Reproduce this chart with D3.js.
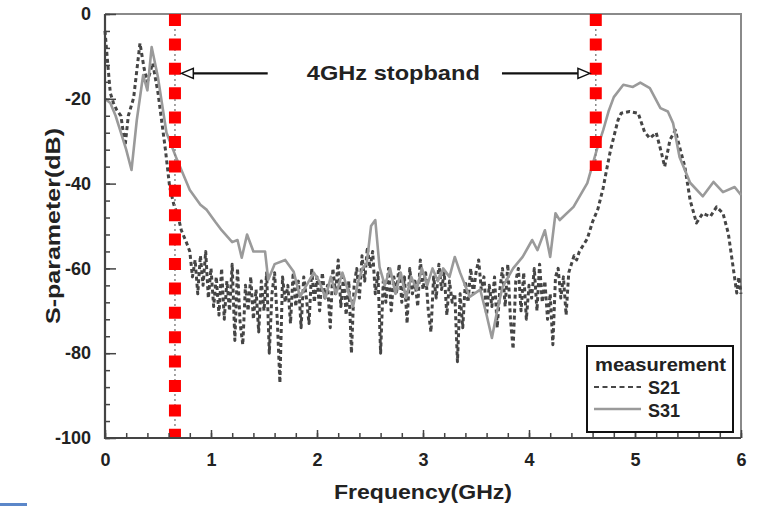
<!DOCTYPE html>
<html><head><meta charset="utf-8">
<script src="https://cdn.jsdelivr.net/npm/d3@7"></script>
<style>body{margin:0;background:#fff}svg{display:block}text{font-family:"Liberation Sans",Arial,sans-serif;font-weight:bold;fill:#222}</style>
</head><body>
<svg id="c" width="757" height="506"></svg>
<script>
// ---- data ----
const xTicks = [0,1,2,3,4,5,6];
const yTicks = [-100,-80,-60,-40,-20,0];
const seriesNames = ["S21","S31"];
const legendTitle = "measurement";
const xTitle = "Frequency(GHz)";
const yTitle = "S-parameter(dB)";
const annotation = "4GHz stopband";
const stopbandEdges = [0.66, 4.63];   // GHz
const rightEdgeLow = -37;             // dB, lower end of right marker
const arrowY = -14;                   // dB

const s21 = [
[0,-4],[0.02,-10],[0.05,-18.6],[0.08,-21],[0.11,-22.6],[0.15,-24],[0.19,-31],[0.22,-24],[0.27,-19.8],[0.33,-6.9],[0.37,-13],[0.40,-16],[0.45,-11.6],[0.50,-18.6],[0.57,-32],[0.61,-40.8],[0.65,-45],[0.69,-47.8],[0.72,-51],[0.77,-54],
[0.800,-56],[0.825,-62],[0.850,-58],[0.875,-66],[0.900,-57],[0.925,-64],[0.950,-56],[0.975,-67],[1.000,-60],[1.025,-69],[1.050,-62],[1.075,-71],[1.100,-60],[1.125,-72],[1.150,-63],[1.175,-70],[1.200,-59],[1.225,-77],[1.250,-60],[1.275,-73],[1.300,-78],[1.325,-64],[1.350,-70],[1.375,-62],[1.400,-72],[1.425,-65],[1.450,-75],[1.475,-63],[1.500,-70],[1.525,-61],[1.550,-80],[1.575,-66],[1.600,-61],[1.625,-72],[1.650,-87],[1.675,-62],[1.700,-68],[1.725,-64],[1.750,-73],[1.775,-61],[1.800,-69],[1.825,-63],[1.850,-74],[1.875,-62],[1.900,-67],[1.925,-73],[1.950,-60],[1.975,-68],
[2.000,-62],[2.025,-70],[2.050,-61],[2.075,-67],[2.100,-64],[2.125,-74],[2.150,-60],[2.175,-66],[2.200,-58],[2.225,-69],[2.250,-62],[2.275,-71],[2.300,-63],[2.325,-80],[2.350,-64],[2.375,-60],[2.400,-67],[2.425,-57],[2.450,-63],[2.475,-55],[2.500,-60],[2.525,-56],[2.550,-66],[2.575,-61],[2.600,-80],[2.625,-63],[2.650,-68],[2.675,-60],[2.700,-70],[2.725,-62],[2.750,-66],[2.775,-59],[2.800,-68],[2.825,-62],[2.850,-73],[2.875,-60],[2.900,-66],[2.925,-63],[2.950,-69],[2.975,-58],
[3.000,-65],[3.025,-61],[3.050,-70],[3.075,-75],[3.100,-62],[3.125,-67],[3.150,-59],[3.175,-65],[3.200,-61],[3.225,-71],[3.250,-63],[3.275,-68],[3.300,-66],[3.325,-82],[3.350,-66],[3.375,-74],[3.400,-63],[3.425,-68],[3.450,-60],[3.475,-66],[3.500,-61],[3.525,-58],[3.550,-65],[3.575,-62],[3.600,-71],[3.625,-64],[3.650,-69],[3.675,-62],[3.700,-74],[3.725,-65],[3.750,-60],[3.775,-69],[3.800,-59],[3.825,-72],[3.850,-79],[3.875,-63],[3.900,-60],[3.925,-70],[3.950,-61],[3.975,-72],
[4.000,-64],[4.025,-67],[4.050,-60],[4.075,-70],[4.100,-59],[4.125,-68],[4.150,-63],[4.175,-72],[4.200,-66],[4.225,-78],[4.250,-62],[4.275,-60],[4.300,-67],[4.325,-62],[4.350,-71],[4.375,-61],[4.400,-59],
[4.425,-57],[4.45,-58],[4.475,-56],[4.50,-55],[4.55,-53],[4.60,-49],[4.65,-46],[4.70,-41],[4.73,-37],[4.77,-32],[4.80,-29],[4.84,-25],[4.87,-23.4],[4.95,-23],[5.03,-23.4],[5.09,-27.8],[5.14,-29.3],[5.20,-28],[5.25,-32.8],[5.28,-36],[5.33,-29.7],[5.38,-27.4],[5.42,-31.3],[5.47,-36],[5.52,-43.9],[5.58,-49.3],[5.64,-47],[5.71,-47.8],[5.77,-45.5],[5.83,-47],[5.88,-51.7],[5.92,-58.7],[5.96,-65.8],[5.98,-62],[6.0,-66]
];

const s31 = [
[0,-20],[0.05,-21],[0.10,-24],[0.15,-28],[0.20,-32],[0.25,-36.8],[0.30,-25],[0.36,-14.4],[0.40,-18],[0.44,-7.8],[0.50,-15],[0.58,-28],[0.68,-34.4],[0.80,-41.5],[0.90,-45],[0.96,-46.2],[1.04,-49],[1.10,-51],[1.20,-53.8],[1.25,-53.3],[1.29,-57.5],[1.34,-52],[1.40,-56],[1.51,-56],[1.54,-62.7],[1.60,-59],[1.70,-58],[1.78,-60.8],[1.84,-66.7],[1.90,-64],[1.97,-61],
[2.02,-63],[2.08,-67],[2.13,-62],[2.18,-66],[2.24,-61],[2.29,-65],[2.34,-69],[2.39,-63],[2.43,-60],[2.47,-58.7],[2.51,-50],[2.55,-48.6],[2.59,-59.7],[2.64,-64],[2.69,-60],[2.74,-66],[2.79,-61],[2.84,-67],[2.89,-62],[2.94,-65],[2.99,-60],[3.04,-64],[3.09,-60],[3.14,-63],[3.19,-60],[3.25,-62],[3.30,-57.3],[3.35,-61],[3.44,-66.7],[3.54,-65],[3.60,-71],[3.65,-76.4],[3.70,-70],[3.75,-64.4],[3.85,-60],[3.94,-57.3],
[4.03,-53.3],[4.08,-55.7],[4.15,-51],[4.20,-57.3],[4.25,-47],[4.29,-48.6],[4.42,-45.5],[4.55,-39.9],[4.64,-32],[4.70,-27.4],[4.75,-23],[4.80,-19.6],[4.89,-16.7],[4.98,-17.2],[5.05,-16.2],[5.14,-17.5],[5.24,-22.2],[5.31,-23],[5.36,-25.8],[5.42,-33.7],[5.52,-39.8],[5.64,-43],[5.74,-39.6],[5.83,-42],[5.94,-40.8],[6.0,-42.7]
];

// ---- drawing ----
const svg = d3.select("#c");
const x = d3.scaleLinear().domain([0,6]).range([105,741]);
const y = d3.scaleLinear().domain([-100,0]).range([438,14]);

// stray blue mark at bottom-left
svg.append("rect").attr("x",0).attr("y",503).attr("width",27).attr("height",3).attr("fill","#5b87c9");

// frame (top/right lighter)
svg.append("path").attr("d",`M${x(0)},${y(0)}H${x(6)}V${y(-100)}`).attr("fill","none").attr("stroke","#8a8a8a").attr("stroke-width",2);

const line = d3.line().x(d=>x(d[0])).y(d=>y(d[1]));
const plot = svg.append("g");
plot.append("path").datum(s21).attr("d",line).attr("fill","none").attr("stroke","#454545").attr("stroke-width",3).attr("stroke-dasharray","4,3").attr("stroke-linejoin","round");
plot.append("path").datum(s31).attr("d",line).attr("fill","none").attr("stroke","#9a9a9a").attr("stroke-width",2.6).attr("stroke-linejoin","round");

// stopband markers
const markerBottoms = [-100, rightEdgeLow];
stopbandEdges.forEach((f,i)=>{
  svg.append("line").attr("x1",x(f)).attr("x2",x(f)).attr("y1",y(0)).attr("y2",y(markerBottoms[i]))
    .attr("stroke","#888").attr("stroke-width",1.5).attr("stroke-dasharray","2,3");
  svg.append("line").attr("x1",x(f)).attr("x2",x(f)).attr("y1",y(0)).attr("y2",y(markerBottoms[i]))
    .attr("stroke","#ff0000").attr("stroke-width",12).attr("stroke-dasharray","12,12.4");
});

// arrows and annotation
const ay = y(arrowY);
function arrow(x0, xt){
  const dir = Math.sign(xt - x0), hb = xt - dir*12;
  svg.append("line").attr("x1",x0).attr("x2",hb).attr("y1",ay).attr("y2",ay).attr("stroke","#111").attr("stroke-width",2.2);
  svg.append("path").attr("d",`M${xt},${ay}L${hb},${ay-5}L${hb},${ay+5}Z`).attr("fill","#fff").attr("stroke","#111").attr("stroke-width",1.5);
}
arrow(x(1.535), x(0.72));
arrow(x(3.745), x(4.575));
svg.append("text").attr("x",x(2.72)).attr("y",ay+7).attr("text-anchor","middle").attr("font-size",21)
  .attr("textLength",173).attr("lengthAdjust","spacingAndGlyphs").text(annotation);

// axes
const fmt = d => String(d);
function styleAxis(g){ g.select(".domain").remove(); g.selectAll("line").attr("stroke","#444").attr("stroke-width",1.5); }
function styleText(g){ g.selectAll("text").attr("font-size",18).attr("font-family","Liberation Sans, Arial").attr("font-weight","bold").attr("fill","#222"); }
const yMinor = d3.range(-100, 1, 4);
svg.append("g").attr("transform",`translate(${x(0)},0)`).call(d3.axisLeft(y).tickValues(yMinor).tickSize(-5).tickFormat("")).call(styleAxis);
svg.append("g").attr("transform",`translate(${x(0)},0)`).call(d3.axisLeft(y).tickValues(yTicks).tickFormat(fmt).tickSizeInner(-11).tickSizeOuter(0).tickPadding(14))
  .call(styleAxis).call(styleText);
const xMinor = d3.range(0, 6.001, 0.2);
svg.append("g").attr("transform",`translate(0,${y(-100)})`).call(d3.axisBottom(x).tickValues(xMinor).tickSize(-5).tickFormat("")).call(styleAxis);
svg.append("g").attr("transform",`translate(0,${y(-100)})`).call(d3.axisBottom(x).tickValues(xTicks).tickFormat(fmt).tickSizeInner(-8).tickSizeOuter(0).tickPadding(15))
  .call(styleAxis).call(styleText);
// axis lines
svg.append("path").attr("d",`M${x(0)},${y(0)}V${y(-100)}H${x(6)}`).attr("fill","none").attr("stroke","#444").attr("stroke-width",2.2);

// titles
svg.append("text").attr("x",(x(0)+x(6))/2).attr("y",499).attr("text-anchor","middle").attr("font-size",21)
  .attr("textLength",178).attr("lengthAdjust","spacingAndGlyphs").text(xTitle);
svg.append("text").attr("transform",`translate(60,${(y(0)+y(-100))/2}) rotate(-90)`).attr("text-anchor","middle").attr("font-size",21)
  .attr("textLength",196).attr("lengthAdjust","spacingAndGlyphs").text(yTitle);

// legend
const lg = svg.append("g");
lg.append("rect").attr("x",587).attr("y",346).attr("width",146).attr("height",86).attr("fill","#fff").attr("stroke","#111").attr("stroke-width",2);
lg.append("text").attr("x",595).attr("y",371).attr("font-size",18).attr("textLength",131).attr("lengthAdjust","spacingAndGlyphs").text(legendTitle);
lg.append("line").attr("x1",594).attr("x2",641).attr("y1",387).attr("y2",387).attr("stroke","#474747").attr("stroke-width",2.2).attr("stroke-dasharray","5,3.5");
lg.append("line").attr("x1",594).attr("x2",641).attr("y1",409).attr("y2",409).attr("stroke","#9a9a9a").attr("stroke-width",2.6);
lg.append("text").attr("x",648).attr("y",394).attr("font-size",18).text(seriesNames[0]);
lg.append("text").attr("x",648).attr("y",417).attr("font-size",18).text(seriesNames[1]);
</script>
</body></html>
